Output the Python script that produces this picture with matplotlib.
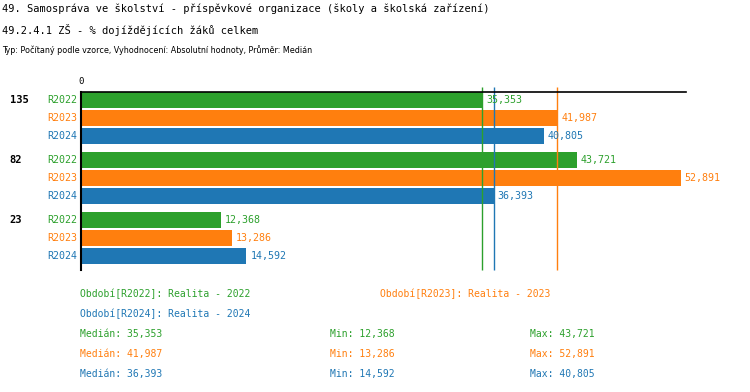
import matplotlib
matplotlib.use('Agg')
from matplotlib import pyplot as plt

plt.rcParams['font.family'] = ['DejaVu Sans Mono']

# data
groups = ['135', '82', '23']
series = ['R2022', 'R2023', 'R2024']
colors = ['#2ca02c', '#ff7f0e', '#1f77b4']
values = {
    'R2022': [35.353, 43.721, 12.368],
    'R2023': [41.987, 52.891, 13.286],
    'R2024': [40.805, 36.393, 14.592],
}
medians = [35.353, 41.987, 36.393]
period_names = ['Realita - 2022', 'Realita - 2023', 'Realita - 2024']


def fmt(v):
    return ('%.3f' % v).replace('.', ',')


W, H = 750, 392
fig = plt.figure(figsize=(W / 100, H / 100), dpi=100)
ax = fig.add_axes([81 / W, 1 - 270 / H, (686 - 81) / W, (270 - 92) / H])

gpitch = 60 / 18.0
ytop, ybot = 8 / 18.0, -(2 * gpitch + 2) - 14 / 18.0
for i, g in enumerate(groups):
    for j, s in enumerate(series):
        y = -(i * gpitch + j)
        v = values[s][i]
        ax.barh(y, v, height=16 / 18.0, color=colors[j])
        ax.text(v + 0.35, y, fmt(v), color=colors[j], fontsize=7.2,
                va='center', ha='left')
        ax.text(-0.3, y, s, color=colors[j], fontsize=7.2, va='center',
                ha='right', clip_on=False)
    ax.text(-6.3, -i * gpitch, g, fontsize=7.5, fontweight='bold',
            va='center', ha='left')

# median lines
for m, c in zip(medians, colors):
    ax.vlines(m, ybot, ytop + 5 / 18.0, color=c, lw=1, clip_on=False)

ax.set_xlim(0, 53.35)
ax.set_ylim(ybot, ytop)
ax.set_xticks([])
ax.set_yticks([])
for sp in ['right', 'bottom']:
    ax.spines[sp].set_visible(False)
ax.spines['top'].set_linewidth(1.2)
ax.spines['left'].set_linewidth(1.5)
ax.text(0, ytop + 0.35, '0', fontsize=6.5, ha='center', va='bottom')

# titles
fig.text(2 / W, 1 - 9 / H, '49. Samospráva ve školství - příspěvkové organizace (školy a školská zařízení)',
         fontsize=7.5, va='center')
fig.text(2 / W, 1 - 30 / H, '49.2.4.1 ZŠ - % dojíždějících žáků celkem',
         fontsize=7.5, va='center')
fig.text(2 / W, 1 - 50 / H, 'Typ: Počítaný podle vzorce, Vyhodnocení: Absolutní hodnoty, Průměr: Medián',
         fontsize=5.8, va='center', family=['Liberation Sans Narrow', 'DejaVu Sans'])

# legend / summary
fs = 7.0
leg_pos = [(80, 294), (380, 294), (80, 314)]
for (x, y), s, name, c in zip(leg_pos, series, period_names, colors):
    fig.text(x / W, 1 - y / H, 'Období[%s]: %s' % (s, name), color=c,
             fontsize=fs, va='center')
for k, s in enumerate(series):
    y = 1 - (334 + 20 * k) / H
    c = colors[k]
    fig.text(80 / W, y, 'Medián: ' + fmt(medians[k]), color=c, fontsize=fs, va='center')
    fig.text(330 / W, y, 'Min: ' + fmt(min(values[s])), color=c, fontsize=fs, va='center')
    fig.text(530 / W, y, 'Max: ' + fmt(max(values[s])), color=c, fontsize=fs, va='center')

fig.savefig('out.png', dpi=100)
